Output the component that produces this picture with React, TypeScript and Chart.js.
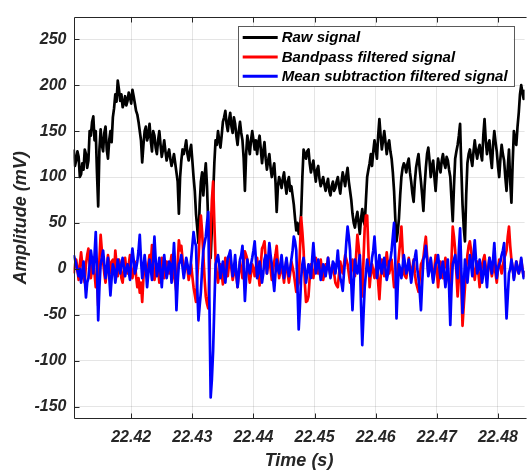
import React, { useEffect, useRef } from 'react';
import { Chart, registerables } from 'chart.js';

Chart.register(...registerables);

// Sampling grid of the recording (seconds)
const T0 = 22.4106;
const DT = 0.0002;

const rawSignal = [
  130, 112, 118, 128, 122, 100, 103, 115, 108, 130,
  125, 110, 118, 150, 145, 160, 166, 140, 150, 105,
  68, 130, 152, 135, 128, 148, 155, 130, 120, 140,
  150, 138, 165, 175, 190, 182, 205, 195, 183, 190,
  176, 180, 188, 178, 183, 192, 187, 180, 195, 188,
  180, 172, 168, 160, 150, 140, 116, 135, 150, 155,
  140, 145, 158, 140, 128, 150, 145, 132, 125, 140,
  150, 135, 122, 130, 140, 128, 118, 125, 130, 120,
  112, 118, 125, 115, 105, 95, 60, 100, 118, 130,
  125, 132, 140, 125, 118, 128, 135, 118, 100, 85,
  60, 45, 28, 70, 95, 105, 80, 100, 115, 90,
  50, 30, 12, 45, 80, 115, 140, 135, 150, 140,
  132, 145, 160, 165, 172, 158, 150, 162, 170, 155,
  148, 165, 158, 145, 135, 150, 160, 148, 140, 120,
  85, 125, 145, 135, 125, 140, 150, 140, 130, 140,
  125, 138, 145, 130, 115, 128, 138, 120, 108, 118,
  125, 110, 100, 108, 115, 95, 62, 90, 100, 95,
  88, 98, 105, 92, 82, 95, 100, 85, 90, 80,
  70, 55, 42, 50, 38, 45, 60, 100, 130, 125,
  120, 128, 130, 115, 105, 112, 118, 105, 95, 108,
  112, 98, 90, 95, 100, 92, 85, 92, 98, 85,
  80, 90, 95, 85, 88, 95, 100, 90, 82, 95,
  105, 98, 90, 102, 110, 95, 85, 75, 60, 50,
  45, 55, 62, 50, 38, 55, 65, 52, 48, 75,
  100, 108, 115, 125, 112, 128, 140, 130, 120, 145,
  163, 145, 130, 140, 150, 138, 125, 135, 140, 128,
  120, 105, 85, 55, 30, 40, 55, 80, 100, 110,
  115, 112, 105, 115, 120, 105, 95, 82, 73, 95,
  110, 118, 125, 108, 95, 80, 63, 90, 110, 125,
  132, 118, 100, 112, 118, 100, 85, 105, 120, 112,
  105, 118, 125, 115, 110, 122, 118, 108, 100, 75,
  52, 90, 120, 128, 135, 145, 158, 110, 70, 45,
  30, 80, 115, 125, 130, 120, 112, 128, 140, 128,
  120, 130, 135, 125, 118, 145, 163, 140, 125, 135,
  140, 122, 110, 135, 150, 138, 128, 112, 100, 120,
  135, 125, 118, 100, 85, 110, 130, 95, 72, 115,
  150, 140, 135, 155, 170, 190, 200, 192, 185, 195,
  202,
];

const bandpassSignal = [
  -5, 5, 10, 0, -12, 5, 18, 5, -8, -15,
  5, 15, 22, 5, -10, 0, 12, -5, -20, -10,
  -40, 10, 37, 20, 8, -5, -15, 0, 15, 5,
  -5, 8, 10, -5, 20, 5, -8, 10, 5, -10,
  -15, 0, 12, 0, -5, 5, 15, 0, -10, -2,
  8, -8, -20, -10, -26, -15, -36, -10, 10, 0,
  -5, 5, 15, 5, 26, 8, -12, -5, 5, 0,
  -15, -5, 12, 2, -10, 0, 8, 0, -5, 5,
  15, 5, -8, -15, -25, 5, 31, 20, 25, 10,
  -5, 0, 10, 0, -12, -5, 5, -8, -20, -28,
  -36, -10, 10, 35, 58, 40, 15, -10, -30, -38,
  -43, -5, 40, 75, 95, 50, 10, -5, -15, -5,
  5, -5, -17, -5, 12, 2, -8, 5, 15, 0,
  -12, -5, 5, -8, -20, -5, 8, 0, -10, 5,
  19, 15, 10, -5, -15, -5, 5, 0, -8, 2,
  12, -5, -18, 5, 22, 25, 30, 10, -5, 5,
  15, 0, -12, -2, 8, 15, 25, 5, -10, -3,
  5, -5, -15, 0, 10, -5, -15, -5, 8, 2,
  -5, -15, -25, -20, -15, 20, 56, 40, 20, -15,
  -36, -35, -30, -10, 5, -3, -10, 0, 12, 5,
  -5, 2, 10, 0, -12, -5, 5, 0, 12, 0,
  -8, 0, 5, -5, -15, -18, -20, -5, 8, 0,
  -5, 5, 15, 10, 5, -5, -15, -3, 10, 0,
  -8, 15, 37, 25, 10, -10, -30, 10, 45, 58,
  58, 20, -20, -5, 5, -3, -10, 0, 8, -15,
  -33, -10, 10, 0, -8, 5, 18, 5, -5, 2,
  10, -5, -20, -18, -15, 0, 15, 30, 46, 20,
  -5, -8, -10, 0, 12, 2, -8, 0, 10, -5,
  -15, -20, -25, -10, 5, 8, 12, 25, 35, 15,
  -5, 2, 10, -2, -12, 0, 15, -2, -20, -5,
  8, 0, -10, 2, 12, 3, -5, -15, -25, 10,
  46, 35, 20, -5, -30, -10, 10, -15, -62, -40,
  -20, 0, 15, 25, 30, 20, 10, -2, -12, 0,
  8, -5, -20, -5, 5, 10, 15, 2, -10, 0,
  12, 2, -8, 0, 5, -5, -15, 0, 10, 2,
  -5, 2, 12, 15, 20, 35, 46, 25, 10, 0,
  -10, -2, 8, 0, -5, 2, 10, 0, -8, -2,
  5,
];

const meanSubSignal = [
  15, 10, 5, -2, -8, 0, -15, -5, 8, -10,
  -31, -15, -10, 5, 20, 10, -5, 15, 40, 0,
  -56, -20, 5, 12, 20, 5, -10, 0, 12, -8,
  -29, -10, 5, 0, -15, -5, 10, 2, -5, 5,
  12, 2, -8, 0, 5, -3, -12, 8, 22, 10,
  -5, 0, 8, 20, 37, 10, -10, 2, 15, 0,
  -20, -5, 10, 0, -12, 10, 35, 10, -8, 0,
  12, -5, -20, 0, 15, 2, -10, -2, 8, 5,
  -15, 5, 28, 0, -45, -15, 5, 8, 15, 2,
  -10, 0, 12, 5, -5, -5, 10, 25, 40, 30,
  25, -20, -56, -40, -25, 0, 20, 28, 35, 50,
  62, -40, -140, -120, -89, -40, 5, 10, 15, 5,
  -10, 0, 8, -5, -15, 0, 12, 15, 20, 5,
  -8, 0, 15, -5, -20, -5, 10, 15, 25, 0,
  -35, -10, 10, 2, -5, 5, 12, 20, 30, 10,
  -10, -5, 8, -2, -15, -5, 10, 15, -5, 10,
  28, 15, 5, -10, -24, -5, 10, 0, -5, 5,
  15, 0, -10, 2, 12, 0, -8, 0, 10, 20,
  35, 30, 20, -20, -66, -40, -10, 5, 12, 0,
  -15, -5, 5, -2, -10, 10, 28, 10, -5, 2,
  10, 0, -12, -5, 5, 2, -8, 0, 12, 0,
  -10, -2, 8, 5, -5, 5, 20, 2, -10, -15,
  -24, -5, 10, 30, 46, 35, 20, -15, -45, -15,
  10, 0, -5, 5, 15, -40, -83, -50, -20, -5,
  10, 0, -8, 0, 12, 20, 35, 15, -10, 0,
  15, 2, -5, 5, 12, 0, -12, -5, 8, 10,
  20, 35, 50, 10, -54, -20, 5, 0, -10, 2,
  15, 5, -5, 0, 10, -2, -15, -5, 8, 12,
  20, 0, -10, -25, -45, -15, 10, 15, 25, 10,
  -8, 0, 12, -3, -15, -5, 5, 8, 15, 2,
  -10, 0, 8, -5, -20, -5, 10, -20, -61, -20,
  5, 10, 15, 0, -10, 20, 44, 0, -48, -20,
  10, 0, -15, 0, 15, 5, -8, 15, 31, 10,
  -5, 0, 10, -2, -15, -5, 8, -5, -20, 0,
  12, 5, -5, 10, 28, 5, -10, 0, 5, 8,
  15, 20, 28, -20, -54, -30, -5, 0, 10, 2,
  -12, -2, 8, 2, -5, 0, 12, 0, -10, -2,
  5,
];

const xTicks = [22.42, 22.43, 22.44, 22.45, 22.46, 22.47, 22.48];
const yTicks = [-150, -100, -50, 0, 50, 100, 150, 200, 250];
const seriesLabels = ['Raw signal', 'Bandpass filtered signal', 'Mean subtraction filtered signal'];
const seriesColors = ['#000000', '#ff0000', '#0000ff'];

const X_MIN = 22.41056;
const X_MAX = 22.48435;
const Y_MIN = -163.5;
const Y_MAX = 274.7;

const FONT = '"Liberation Sans", Arial, sans-serif';
const AXIS_COLOR = '#262626';

const toPoints = (arr: number[]) => arr.map((v, i) => ({ x: T0 + i * DT, y: v }));

const framePlugin = {
  id: 'frame',
  afterDatasetsDraw(chart: any) {
    const { ctx, chartArea: a, scales } = chart;
    ctx.save();
    ctx.strokeStyle = AXIS_COLOR;
    ctx.lineWidth = 1;
    const L = Math.round(a.left) + 0.5;
    const B = Math.round(a.bottom) - 0.5;
    const T = Math.round(a.top) + 0.5;
    ctx.beginPath();
    ctx.moveTo(L, T);
    ctx.lineTo(a.right + 2, T);
    ctx.moveTo(L, T);
    ctx.lineTo(L, B);
    ctx.lineTo(a.right + 2, B);
    xTicks.forEach((v) => {
      const px = Math.round(scales.x.getPixelForValue(v)) + 0.5;
      ctx.moveTo(px, B);
      ctx.lineTo(px, B - 5);
      ctx.moveTo(px, T);
      ctx.lineTo(px, T + 5);
    });
    yTicks.forEach((v) => {
      const py = Math.round(scales.y.getPixelForValue(v)) + 0.5;
      ctx.moveTo(L, py);
      ctx.lineTo(L + 5, py);
    });
    ctx.stroke();
    ctx.restore();
  },
  afterDraw(chart: any) {
    const { ctx, chartArea: a } = chart;
    ctx.save();
    ctx.font = `italic bold 15px ${FONT}`;
    const widths = seriesLabels.map((s) => ctx.measureText(s).width);
    const maxW = Math.max(...widths);
    const boxW = 44 + maxW + 6;
    const boxH = 60;
    const right = a.right - 11;
    const left = right - boxW;
    const top = a.top + 9.5;
    ctx.fillStyle = '#ffffff';
    ctx.fillRect(left, top, boxW, boxH);
    ctx.strokeStyle = '#5a5a5a';
    ctx.lineWidth = 1;
    ctx.strokeRect(Math.round(left) + 0.5, Math.round(top) + 0.5, Math.round(boxW), boxH);
    seriesLabels.forEach((label, i) => {
      const cy = top + 11.5 + i * 19.3;
      ctx.strokeStyle = seriesColors[i];
      ctx.lineWidth = 3;
      ctx.beginPath();
      ctx.moveTo(left + 5, cy);
      ctx.lineTo(left + 40, cy);
      ctx.stroke();
      ctx.fillStyle = '#000000';
      ctx.textBaseline = 'middle';
      ctx.textAlign = 'left';
      ctx.fillText(label, left + 44, cy + 0.5);
    });
    ctx.restore();
  },
};

export default function App() {
  const canvasRef = useRef<HTMLCanvasElement | null>(null);

  useEffect(() => {
    const canvas = canvasRef.current;
    if (!canvas) return;
    const seriesData = [rawSignal, bandpassSignal, meanSubSignal];
    const chart = new Chart(canvas, {
      type: 'line',
      data: {
        datasets: seriesData.map((arr, i) => ({
          label: seriesLabels[i],
          data: toPoints(arr),
          borderColor: seriesColors[i],
          backgroundColor: seriesColors[i],
          borderWidth: 2.7,
          pointRadius: 0,
          tension: 0,
          fill: false,
          borderJoinStyle: 'round' as const,
          order: 3 - i,
        })),
      },
      options: {
        animation: false,
        responsive: false,
        devicePixelRatio: 1,
        layout: { padding: { top: 7, right: 0, left: 0, bottom: 0 } },
        plugins: {
          legend: { display: false },
          tooltip: { enabled: false },
        },
        scales: {
          x: {
            type: 'linear',
            min: X_MIN,
            max: X_MAX,
            afterBuildTicks: (scale: any) => {
              scale.ticks = xTicks.map((v) => ({ value: v }));
            },
            afterFit: (scale: any) => {
              scale.height = 53;
            },
            ticks: {
              padding: 9,
              color: AXIS_COLOR,
              font: { family: FONT, size: 16, weight: 'bold', style: 'italic' },
              callback: (v: any) => Number(v).toFixed(2),
              maxRotation: 0,
              autoSkip: false,
            },
            grid: { color: 'rgba(38,38,38,0.12)', drawTicks: false },
            border: { display: false },
            title: {
              display: true,
              text: 'Time (s)',
              color: AXIS_COLOR,
              font: { family: FONT, size: 18, weight: 'bold', style: 'italic' },
              padding: { top: 0, bottom: 0 },
            },
          },
          y: {
            type: 'linear',
            min: Y_MIN,
            max: Y_MAX,
            afterBuildTicks: (scale: any) => {
              scale.ticks = yTicks.map((v) => ({ value: v }));
            },
            afterFit: (scale: any) => {
              scale.width = 73.5;
            },
            ticks: {
              padding: 7,
              color: AXIS_COLOR,
              font: { family: FONT, size: 16, weight: 'bold', style: 'italic' },
              callback: (v: any) => String(v),
              autoSkip: false,
            },
            grid: { color: 'rgba(38,38,38,0.12)', drawTicks: false },
            border: { display: false },
            title: {
              display: true,
              text: 'Amplitude (mV)',
              color: AXIS_COLOR,
              font: { family: FONT, size: 18, weight: 'bold', style: 'italic' },
              padding: { top: 10, bottom: 0 },
            },
          },
        },
      },
      plugins: [framePlugin],
    });
    return () => chart.destroy();
  }, []);

  return (
    <div style={{ position: 'fixed', left: 0, top: 0, width: 527, height: 472, background: '#ffffff' }}>
      <canvas ref={canvasRef} width={527} height={472} style={{ width: 527, height: 472, display: 'block' }} />
    </div>
  );
}
